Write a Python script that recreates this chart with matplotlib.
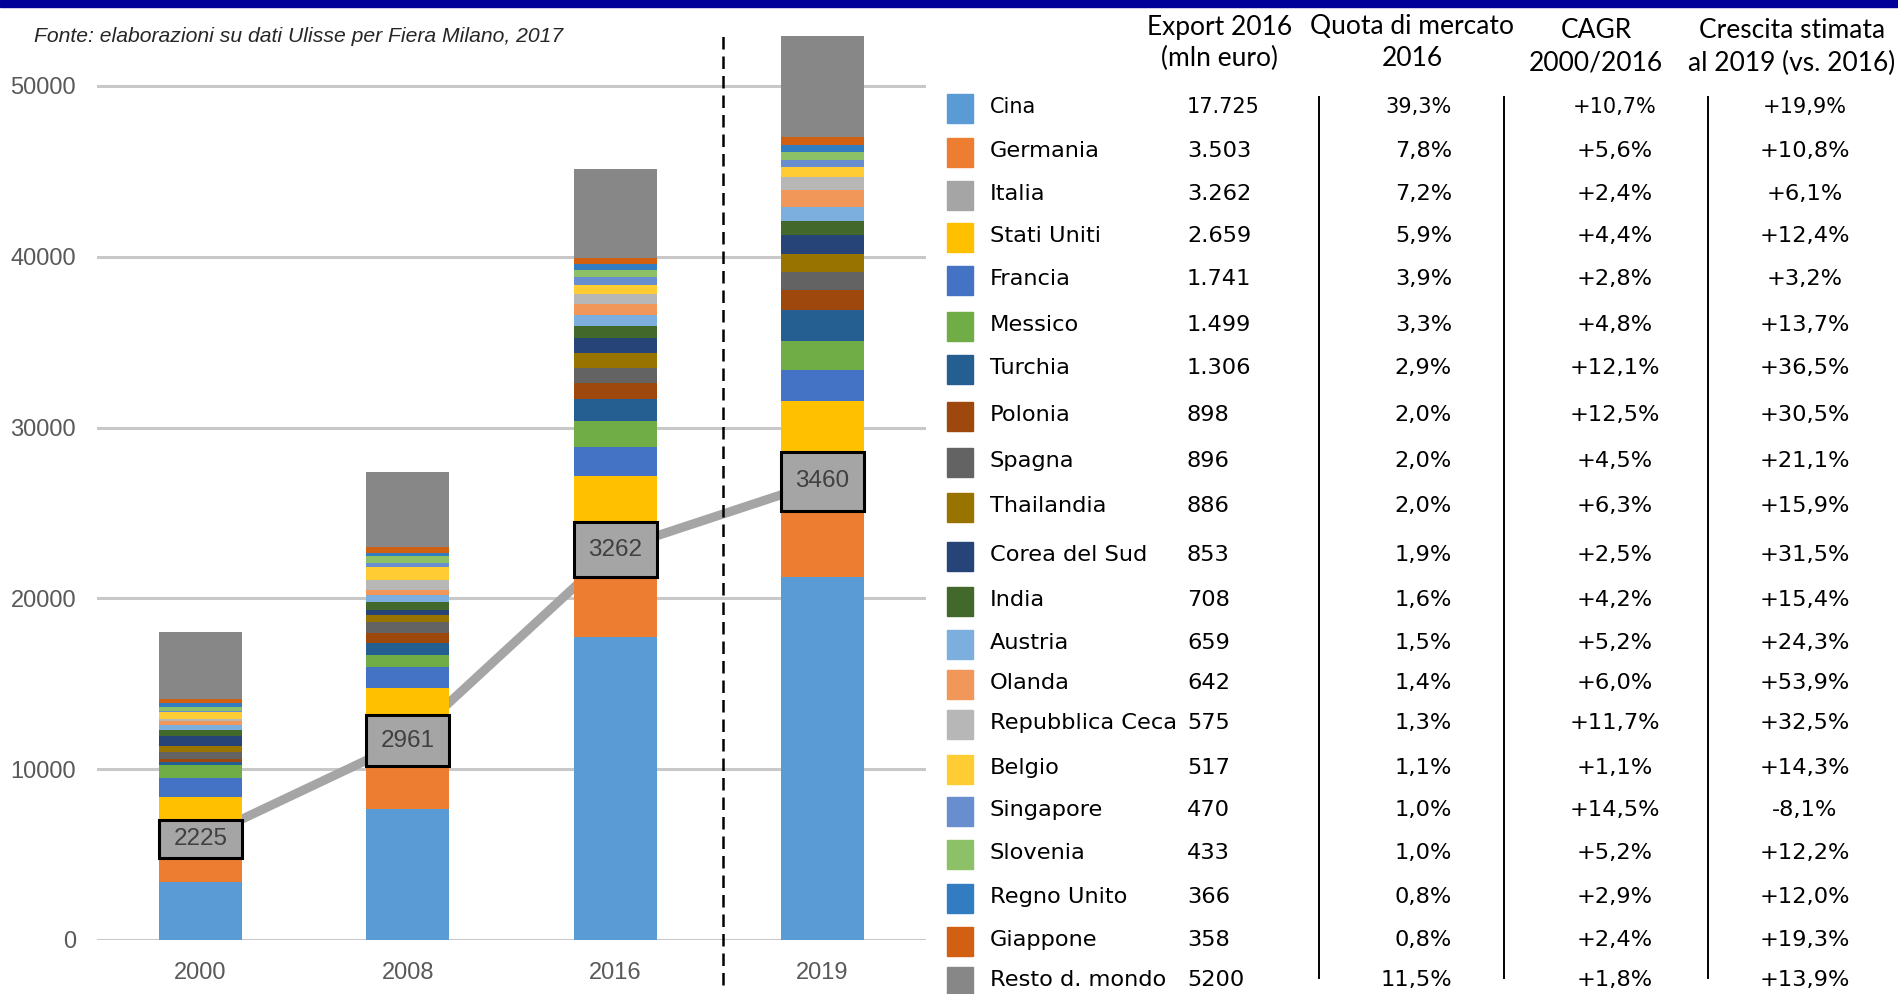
import numpy as np
import matplotlib
matplotlib.use("Agg")
import matplotlib.pyplot as plt
from matplotlib.patches import Rectangle

# --- DATA ---
years = ["2000", "2008", "2016", "2019"]

countries = ["Cina", "Germania", "Italia", "Stati Uniti", "Francia", "Messico",
             "Turchia", "Polonia", "Spagna", "Thailandia", "Corea del Sud", "India",
             "Austria", "Olanda", "Repubblica Ceca", "Belgio", "Singapore",
             "Slovenia", "Regno Unito", "Giappone", "Resto d. mondo"]

# export (mln euro) per country, bottom -> top of the stack
v2000 = [3400, 1420, 2225, 1300, 1150, 740, 200, 140, 450, 340, 560,
         360, 290, 250, 110, 440, 60, 200, 220, 230, 3950]
v2008 = [7670, 2520, 2961, 1580, 1230, 740, 660, 640, 590, 430, 290,
         450, 430, 310, 590, 760, 215, 390, 210, 350, 4370]
v2016 = [17725, 3503, 3262, 2659, 1741, 1499, 1306, 898, 896, 886, 853,
         708, 659, 642, 575, 517, 470, 433, 366, 358, 5200]
v2019 = [21250, 3880, 3460, 2990, 1800, 1700, 1780, 1170, 1085, 1025, 1120,
         815, 820, 990, 780, 590, 410, 485, 410, 425, 5925]

export_lbl = ["17.725", "3.503", "3.262", "2.659", "1.741", "1.499", "1.306",
              "898", "896", "886", "853", "708", "659", "642", "575", "517",
              "470", "433", "366", "358", "5200"]
quota_lbl = ["39,3%", "7,8%", "7,2%", "5,9%", "3,9%", "3,3%", "2,9%", "2,0%",
             "2,0%", "2,0%", "1,9%", "1,6%", "1,5%", "1,4%", "1,3%", "1,1%",
             "1,0%", "1,0%", "0,8%", "0,8%", "11,5%"]
cagr_lbl = ["+10,7%", "+5,6%", "+2,4%", "+4,4%", "+2,8%", "+4,8%", "+12,1%",
            "+12,5%", "+4,5%", "+6,3%", "+2,5%", "+4,2%", "+5,2%", "+6,0%",
            "+11,7%", "+1,1%", "+14,5%", "+5,2%", "+2,9%", "+2,4%", "+1,8%"]
crescita_lbl = ["+19,9%", "+10,8%", "+6,1%", "+12,4%", "+3,2%", "+13,7%",
                "+36,5%", "+30,5%", "+21,1%", "+15,9%", "+31,5%", "+15,4%",
                "+24,3%", "+53,9%", "+32,5%", "+14,3%", "-8,1%", "+12,2%",
                "+12,0%", "+19,3%", "+13,9%"]

headers = [("Export 2016", "(mln euro)"), ("Quota di mercato", "2016"),
           ("CAGR", "2000/2016"), ("Crescita stimata", "al 2019 (vs. 2016)")]

colors = ["#5B9BD5", "#ED7D31", "#A5A5A5", "#FFC000", "#4472C4", "#70AD47",
          "#255E91", "#9E480E", "#636363", "#997300", "#264478", "#43682B",
          "#7CAFDD", "#F1975A", "#B7B7B7", "#FFCD33", "#698ED0", "#8CC168",
          "#327DC2", "#D26012", "#878787"]

# --- LAYOUT (pixels) ---
W, H = 1899, 994
row_y = [107, 151, 194, 236, 279, 325, 368, 415, 461, 506, 555, 600,
         643, 683, 723, 768, 810, 853, 897, 940, 980]
sep_x = 2.52          # dashed separator between 2016 and 2019 (data units)
tick_col = "#595959"

fig = plt.figure(figsize=(W / 100, H / 100), dpi=100)

# top blue band
fig.patches.append(Rectangle((0, 1 - 7 / H), 1, 7 / H, transform=fig.transFigure,
                             color="#000099", zorder=0))

# --- STACKED BARS ---
ax = fig.add_axes([97 / W, 1 - 940 / H, (926 - 97) / W, 939.4 / H])
ax.set_xlim(-0.5, 3.5)
ax.set_ylim(0, 55000)

data = np.array([v2000, v2008, v2016, v2019], dtype=float).T
x = np.arange(len(years))
bottom = np.zeros(len(years))
italy_mid = None
for i, name in enumerate(countries):
    if name == "Italia":
        ax.bar(x, data[i], 0.4, bottom=bottom, color=colors[i],
               edgecolor="black", linewidth=2.2, zorder=4)
        italy_mid = bottom + data[i] / 2
        for xi, yi, v in zip(x, italy_mid, data[i]):
            ax.text(xi, yi, f"{int(v)}", ha="center", va="center", fontsize=17.5,
                    color="#404040", family="Liberation Sans", zorder=6)
    else:
        ax.bar(x, data[i], 0.4, bottom=bottom, color=colors[i], linewidth=0, zorder=3)
    bottom += data[i]

# gray trend line for Italia, behind bars
ax.plot(x, italy_mid, color="#A5A5A5", lw=6.5, zorder=2, solid_capstyle="butt")

# gridlines
for gy in range(0, 50001, 10000):
    ax.axhline(gy, color="#C8C8C8", lw=2.2, zorder=1)

ax.axvline(sep_x, ymin=-0.048, ymax=bottom[-1] / 55000, color="black", lw=1.8,
           dashes=(5, 2.8), clip_on=False, zorder=5)

ax.set_yticks(range(0, 50001, 10000))
ax.set_xticks(x)
ax.set_xticklabels(years)
ax.tick_params(length=0, labelsize=17, labelcolor=tick_col)
ax.tick_params(axis="y", pad=15)
ax.tick_params(axis="x", pad=16)
for lab in ax.get_xticklabels() + ax.get_yticklabels():
    lab.set_family("Liberation Sans")
for s in ax.spines.values():
    s.set_visible(False)
ax.patch.set_alpha(0)

fig.text(34 / W, 1 - 37 / H, "Fonte: elaborazioni su dati Ulisse per Fiera Milano, 2017",
         style="italic", fontsize=15.2, va="center", ha="left", color="#262626",
         family="Liberation Sans")

# --- TABLE / LEGEND ---
tab = fig.add_axes([0, 0, 1, 1])
tab.set_xlim(0, W)
tab.set_ylim(H, 0)
tab.axis("off")

head_x = [1220, 1412, 1596, 1792]
head_y = [(27, 58), (27, 58), (30, 63), (30, 63)]
for (l1, l2), hx, (y1, y2) in zip(headers, head_x, head_y):
    tab.text(hx, y1, l1, ha="center", va="center", fontsize=19, family="Lato")
    tab.text(hx, y2, l2, ha="center", va="center", fontsize=19, family="Lato")

for i, name in enumerate(countries):
    ry = row_y[i]
    fs = 15 if i == 0 else 16.2
    tab.add_patch(Rectangle((947, ry - 13), 26, 29, color=colors[i]))
    tab.text(990, ry, name, ha="left", va="center", fontsize=fs, family="DejaVu Sans")
    tab.text(1187, ry, export_lbl[i], ha="left", va="center", fontsize=fs, family="DejaVu Sans")
    tab.text(1452, ry, quota_lbl[i], ha="right", va="center", fontsize=fs, family="DejaVu Sans")
    tab.text(1615, ry, cagr_lbl[i], ha="center", va="center", fontsize=fs, family="DejaVu Sans")
    tab.text(1805, ry, crescita_lbl[i], ha="center", va="center", fontsize=fs, family="DejaVu Sans")

for lx in [1319, 1504, 1708]:
    tab.plot([lx, lx], [97, 978], color="black", lw=1.4)

fig.savefig("out.png", dpi=100)
